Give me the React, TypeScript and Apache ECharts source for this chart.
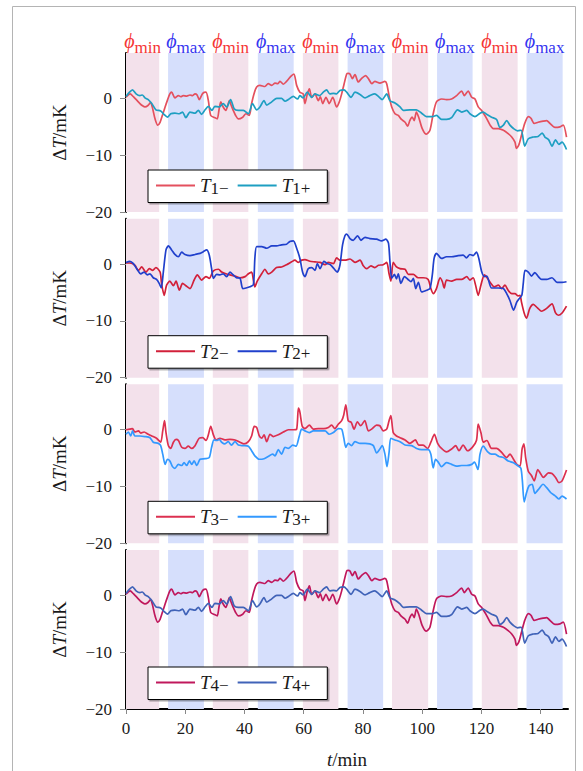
import React, { useEffect, useRef } from "react";
import * as echarts from "echarts";

// ---- data (t in min, ΔT in mK) ----
const phiMinBands: [number, number][] = [[0, 11.2], [29.3, 41.3], [59.7, 71.7], [89.8, 102], [120.1, 132.2]];
const phiMaxBands: [number, number][] = [[14.2, 26.3], [44.5, 56.6], [74.8, 86.8], [105, 117], [135.2, 147.4]];
const xTicks = [0, 20, 40, 60, 80, 100, 120, 140];
const yTicks = [-20, -10, 0];

const t1Minus: [number, number][] = [[0,0.2],[1.4,0.8],[2.5,0.3],[3.6,-0.3],[4.7,-0.9],[5.6,-1.3],[6.4,-1.5],[7.5,-1.2],[8.3,-0.7],[9.0,-1.8],[9.8,-3.6],[10.7,-4.7],[11.5,-4.2],[12.4,-2.8],[13.2,-1.5],[14.0,-0.3],[14.8,0.8],[15.4,1.1],[16.5,0.1],[17.7,0.5],[18.5,0.3],[19.3,0.5],[20.5,0.4],[21.6,0.6],[22.5,0.5],[23.3,0.8],[24.0,0.6],[24.7,-0.2],[25.9,0.9],[27.0,1.1],[27.8,-0.4],[28.6,-3.0],[30.0,-3.4],[30.8,-3.6],[31.4,-2.0],[32.0,-0.6],[32.8,-1.5],[33.7,-2.1],[34.9,-0.4],[35.5,-1.2],[36.2,-2.1],[37.0,-3.0],[37.9,-3.6],[39.4,-3.3],[40.5,-2.7],[41.6,-3.0],[42.4,-0.9],[43.2,0.8],[44.1,2.0],[45.2,2.3],[46.9,2.1],[48.0,2.6],[49.2,2.3],[50.3,2.7],[51.2,2.6],[52.0,3.0],[53.1,2.5],[54.2,3.0],[55.0,3.5],[55.9,4.0],[56.7,4.3],[57.6,2.3],[58.7,1.1],[59.8,0.8],[60.4,-0.9],[61.2,0.8],[61.9,1.7],[62.7,0.2],[63.8,0.8],[64.9,-0.4],[65.6,0.3],[66.4,-0.9],[67.5,0.2],[68.6,-0.9],[69.8,0.2],[71.1,-1.5],[72.0,-0.6],[72.8,0.8],[73.6,2.5],[74.5,4.3],[75.0,4.4],[75.6,4.3],[76.4,3.5],[77.3,4.2],[78.4,2.9],[79.5,3.5],[80.9,4.0],[81.8,3.5],[83.0,2.6],[84.0,3.0],[85.7,2.7],[87.4,3.0],[88.0,2.6],[88.9,0.2],[89.7,-1.5],[90.8,-2.7],[91.9,-3.0],[93.0,-3.7],[94.2,-4.2],[95.1,-4.9],[95.8,-3.9],[96.6,-3.3],[97.3,-3.9],[98.0,-2.4],[98.8,-3.3],[100.0,-5.3],[101.4,-6.3],[102.6,-5.6],[103.7,-2.7],[104.8,-0.6],[106.5,-0.1],[108.2,-0.2],[109.9,-0.1],[111.6,0.5],[113.3,1.3],[114.2,0.5],[115.5,1.3],[116.7,0.2],[117.8,-0.1],[118.9,-1.5],[120.0,-2.1],[121.8,-3.6],[122.9,-4.7],[124.0,-5.3],[125.7,-5.3],[127.4,-5.6],[129.0,-6.2],[130.2,-6.8],[131.3,-7.7],[131.8,-8.8],[132.6,-8.2],[133.5,-6.5],[134.6,-4.4],[135.8,-3.2],[136.7,-3.5],[137.8,-4.4],[139.1,-4.2],[140.8,-4.0],[142.0,-3.9],[143.1,-4.4],[144.8,-5.1],[146.5,-5.0],[147.6,-4.7],[148.7,-6.8]];

const t1Plus: [number, number][] = [[0,0.35],[1.2,1.1],[2.2,1.5],[3.4,0.8],[4.7,0.5],[5.5,0.6],[6.4,0.1],[7.5,-0.2],[8.7,-0.9],[10.1,-2.0],[11.7,-2.2],[12.8,-2.8],[14.0,-3.3],[15.1,-2.7],[16.5,-2.6],[18.0,-2.7],[19.1,-2.4],[20.2,-3.4],[21.6,-2.4],[23.3,-2.6],[24.4,-2.1],[25.5,-2.8],[26.7,-2.0],[27.8,-1.4],[29.0,-2.1],[30.0,-1.4],[31.5,-1.5],[32.8,-0.9],[34.0,-1.5],[35.3,-0.2],[36.5,-1.8],[37.9,-2.1],[39.6,-2.1],[41.3,-2.7],[42.7,-0.9],[44.1,-2.0],[45.2,-1.5],[46.6,-0.4],[47.5,-1.2],[49.2,-0.6],[50.9,0.0],[52.5,0.0],[53.7,-0.5],[54.8,-0.2],[56.5,0.35],[57.9,-0.1],[58.7,0.5],[59.8,0.1],[61.2,1.1],[62.7,0.2],[63.8,0.8],[65.3,0.5],[66.6,1.1],[67.7,1.5],[68.8,0.8],[70.0,0.9],[71.1,0.8],[72.2,1.4],[73.6,1.5],[74.5,1.1],[76.0,0.2],[77.3,1.1],[79.0,0.7],[80.7,0.1],[82.3,0.5],[84.0,0.8],[85.2,0.35],[86.5,-0.2],[88.0,0.8],[89.1,-0.4],[90.8,-0.8],[92.5,-1.5],[93.6,-2.1],[95.8,-2.0],[98.0,-2.0],[99.8,-2.6],[101.4,-3.2],[103.4,-3.2],[104.8,-3.0],[106.5,-3.7],[108.2,-3.7],[109.9,-3.4],[111.9,-2.0],[113.3,-2.4],[115.0,-2.1],[116.1,-2.7],[117.8,-3.2],[119.5,-2.6],[120.6,-2.4],[121.7,-2.8],[123.4,-3.3],[125.1,-3.7],[126.2,-5.1],[127.4,-4.7],[128.5,-3.9],[129.6,-4.7],[130.8,-5.3],[132.2,-5.7],[133.4,-5.6],[134.6,-8.4],[135.8,-7.1],[137.5,-6.8],[139.1,-6.7],[140.5,-6.1],[141.4,-6.8],[142.7,-7.3],[143.8,-8.4],[145.0,-7.3],[146.1,-8.1],[147.2,-7.7],[148.7,-9.0]];

const t2Minus: [number, number][] = [[0,0.2],[1.3,0.2],[3.0,-0.2],[4.2,-1.1],[5.3,-0.5],[6.7,-1.4],[7.9,-0.8],[9.0,-1.1],[10.1,-0.6],[11.5,-1.4],[12.0,-3.4],[12.9,-5.5],[13.7,-3.7],[14.8,-3.0],[16.0,-3.8],[16.9,-3.0],[18.0,-4.6],[19.1,-3.4],[20.2,-3.8],[21.6,-4.3],[23.0,-2.8],[24.1,-1.9],[25.5,-2.8],[27.0,-2.2],[28.1,-2.5],[29.5,-1.2],[31.2,-0.9],[32.3,-1.4],[33.7,-1.7],[35.1,-1.9],[36.8,-2.1],[38.5,-2.4],[40.2,-2.2],[41.3,-1.7],[42.4,-1.4],[43.0,-2.8],[43.5,-4.0],[44.3,-3.0],[45.8,-1.7],[46.9,-0.9],[48.0,-1.7],[49.2,-1.4],[50.8,-0.6],[52.5,-0.5],[54.2,-0.1],[55.9,0.4],[57.0,0.7],[58.2,0.3],[59.3,0.7],[60.4,0.8],[62.1,0.5],[63.8,0.4],[65.5,0.3],[67.2,-0.1],[68.3,0.3],[70.0,0.1],[71.1,1.1],[72.2,0.7],[73.9,0.7],[75.6,0.9],[77.3,0.3],[79.0,0.7],[80.1,-0.3],[81.2,-0.8],[82.7,-0.3],[84.0,-0.6],[85.2,-0.2],[86.8,-0.1],[88.0,0.3],[88.8,-1.7],[89.4,-3.0],[90.2,0.3],[91.3,-0.5],[92.5,-0.8],[94.2,-0.9],[95.3,-1.8],[97.0,-1.8],[98.6,-2.4],[100.3,-2.4],[102.0,-2.7],[102.9,-4.3],[103.7,-5.2],[104.8,-4.3],[106.0,-2.4],[106.8,-3.1],[107.4,-4.2],[108.2,-2.8],[109.9,-3.0],[111.6,-2.7],[113.3,-2.7],[115.0,-2.2],[116.1,-2.8],[117.2,-2.4],[118.0,-3.7],[118.9,-5.5],[119.8,-3.7],[121.0,-1.9],[122.0,-2.5],[123.2,-3.4],[124.3,-4.0],[125.7,-3.7],[126.8,-4.3],[127.9,-3.7],[129.0,-4.6],[130.2,-5.2],[131.3,-5.2],[132.4,-5.6],[133.0,-5.5],[133.5,-6.7],[134.4,-8.6],[135.2,-9.5],[136.3,-7.8],[137.5,-7.1],[138.9,-7.7],[140.3,-8.3],[142.0,-7.8],[143.8,-7.0],[145.0,-8.6],[145.9,-9.0],[147.2,-8.6],[148.7,-7.4]];

const t2Plus: [number, number][] = [[0,0.3],[1.3,0.5],[2.5,0.1],[3.6,-0.8],[5.0,-1.7],[6.1,-1.4],[7.2,-1.9],[8.1,-1.7],[9.2,-2.4],[10.3,-2.7],[11.2,-3.4],[11.9,-4.2],[12.6,-1.4],[13.5,2.5],[14.3,3.2],[15.4,2.5],[16.5,1.7],[17.7,1.3],[18.8,2.1],[19.9,1.7],[21.6,1.5],[23.3,1.7],[25.0,1.9],[26.1,2.2],[27.2,2.5],[28.1,1.6],[28.9,-0.8],[29.5,-2.5],[30.6,-1.8],[31.7,-1.9],[32.8,-1.7],[34.0,-2.2],[35.1,-1.4],[36.2,-1.9],[37.3,-2.4],[38.5,-2.5],[39.4,-4.3],[40.5,-4.2],[41.8,-4.0],[43.0,-3.6],[43.5,1.0],[44.1,3.1],[45.8,3.1],[47.5,2.8],[49.2,3.2],[50.8,3.2],[52.5,3.4],[54.2,3.5],[55.3,4.0],[56.5,4.1],[57.6,2.8],[58.7,1.0],[59.6,-1.4],[60.4,-2.2],[61.5,-0.8],[62.7,-0.6],[63.8,-1.1],[64.6,0.1],[65.5,-0.8],[66.8,0.5],[67.9,0.1],[69.0,-0.1],[70.2,-0.8],[71.3,-1.4],[72.2,-0.2],[73.1,3.4],[73.9,5.0],[74.5,5.3],[75.6,4.5],[76.7,4.2],[78.2,5.0],[79.3,4.2],[80.7,4.7],[82.3,4.5],[84.6,4.4],[86.3,4.1],[87.7,4.4],[88.6,3.7],[89.1,0.4],[89.7,-2.5],[90.6,-1.8],[91.3,-2.6],[91.9,-1.7],[92.8,-3.4],[94.0,-2.2],[95.2,-2.7],[96.2,-3.1],[97.0,-2.5],[97.8,-4.3],[98.7,-3.2],[99.8,-4.9],[101.5,-4.6],[102.6,-4.3],[103.4,-1.9],[104.0,1.0],[104.8,1.9],[106.5,1.0],[108.2,1.3],[109.9,1.3],[112.1,1.5],[113.8,1.6],[114.9,1.1],[116.1,1.7],[117.2,1.5],[118.3,2.1],[119.1,1.0],[120.1,-1.4],[121.0,-2.2],[121.8,-2.1],[123.4,-4.2],[125.7,-4.2],[127.4,-4.3],[128.5,-5.2],[129.6,-6.4],[130.8,-8.1],[131.9,-6.7],[132.7,-6.1],[133.6,-5.5],[134.1,-3.4],[134.7,-1.1],[135.8,-1.4],[136.9,-2.1],[138.0,-1.5],[139.2,-2.2],[140.3,-2.7],[142.0,-2.7],[143.8,-2.4],[145.5,-3.2],[147.2,-3.2],[148.7,-3.1]];

const t3Minus: [number, number][] = [[0,0.0],[1.3,0.1],[2.2,0.2],[3.0,-0.4],[4.2,-0.2],[5.0,-0.6],[6.1,-0.4],[7.5,-0.8],[8.7,-1.1],[10.3,-1.5],[11.7,-2.2],[12.4,-0.2],[13.0,1.6],[13.5,-0.5],[14.3,-2.8],[15.1,-3.3],[16.0,-2.2],[16.9,-1.7],[17.7,-1.9],[18.8,-3.1],[19.9,-3.3],[21.0,-2.9],[22.2,-3.3],[23.3,-2.8],[24.7,-1.5],[25.9,-1.4],[27.0,-1.9],[27.8,-0.9],[28.6,0.6],[29.5,-0.9],[30.4,-1.8],[31.7,-1.5],[33.4,-1.8],[35.1,-1.7],[36.8,-1.8],[38.5,-2.2],[39.8,-2.5],[41.3,-2.1],[42.4,-1.1],[43.3,0.6],[44.1,0.4],[45.0,-1.1],[45.8,-1.5],[46.6,-0.9],[47.5,-2.1],[48.6,-0.8],[49.7,-1.2],[51.4,-0.9],[53.1,-0.4],[54.8,0.0],[56.5,0.0],[57.6,0.1],[58.2,3.8],[58.7,3.1],[59.5,0.6],[60.4,0.2],[61.9,0.8],[63.2,0.1],[64.9,0.2],[66.8,0.2],[68.3,0.4],[69.4,0.8],[70.5,0.2],[71.7,1.0],[72.8,1.6],[73.5,2.6],[74.2,4.4],[75.0,1.6],[76.0,1.3],[77.0,0.1],[78.1,1.4],[79.2,0.7],[80.6,1.6],[81.8,-0.2],[82.9,0.1],[84.6,0.8],[85.7,0.7],[86.8,-0.2],[88.0,0.1],[88.8,1.6],[89.4,2.5],[90.2,-0.5],[91.3,-1.1],[92.5,-1.4],[94.2,-1.8],[95.8,-2.4],[97.7,-1.8],[98.8,-2.7],[100.3,-2.7],[101.8,-3.3],[102.9,-2.2],[104.1,-0.8],[105.2,-2.4],[106.5,-3.3],[108.2,-3.9],[109.9,-3.4],[111.3,-2.8],[112.4,-3.7],[113.8,-2.7],[115.3,-3.7],[116.9,-3.1],[118.3,-1.9],[118.9,1.0],[119.8,-0.5],[120.6,-2.2],[121.8,-1.9],[123.4,-3.3],[125.1,-3.3],[126.8,-4.0],[128.5,-4.9],[129.6,-4.3],[130.8,-5.2],[131.9,-6.1],[133.0,-6.4],[133.7,-3.4],[134.3,-2.5],[134.9,-4.9],[135.8,-7.3],[136.9,-8.1],[137.8,-9.0],[139.0,-7.0],[139.8,-7.6],[140.9,-8.4],[142.6,-7.6],[143.8,-7.7],[145.0,-8.4],[146.1,-9.3],[147.2,-9.0],[148.7,-7.1]];

const t3Plus: [number, number][] = [[0,-0.8],[0.8,-0.4],[1.6,-1.1],[2.2,-0.2],[3.0,-1.1],[4.7,-1.1],[6.4,-1.2],[8.1,-1.4],[9.2,-2.2],[10.9,-2.4],[11.7,-2.8],[12.4,-4.3],[13.2,-6.1],[14.0,-5.2],[14.8,-5.5],[15.7,-6.5],[16.5,-6.8],[17.7,-6.1],[18.8,-6.3],[19.6,-5.8],[20.5,-6.3],[21.4,-5.5],[22.2,-6.1],[23.0,-5.5],[23.9,-6.3],[25.0,-5.2],[26.7,-5.1],[28.1,-4.9],[28.9,-3.1],[29.7,-1.8],[30.6,-1.9],[31.5,-1.7],[32.3,-2.2],[33.4,-2.5],[34.5,-2.1],[35.6,-2.7],[36.8,-2.1],[37.9,-2.7],[39.6,-2.8],[41.3,-2.9],[42.4,-3.7],[43.5,-4.6],[45.0,-5.2],[46.6,-5.1],[48.0,-4.7],[49.5,-4.3],[50.3,-4.6],[51.4,-3.5],[52.5,-4.3],[53.7,-3.1],[54.8,-3.3],[56.3,-2.7],[57.4,-2.9],[58.5,-1.1],[59.3,0.1],[60.4,-0.2],[61.9,-0.5],[63.2,-0.2],[65.3,-0.2],[67.2,-0.2],[68.6,-0.8],[70.0,-0.5],[71.7,0.2],[72.8,0.1],[73.5,-1.4],[74.2,-3.1],[75.0,-2.4],[76.1,-2.8],[77.3,-2.1],[79.0,-2.4],[80.7,-2.4],[82.3,-2.5],[83.5,-2.8],[84.6,-4.1],[85.7,-3.4],[86.5,-2.8],[87.4,-4.3],[88.1,-6.5],[88.8,-4.0],[89.4,-1.5],[90.8,-1.8],[92.5,-2.1],[94.2,-2.7],[96.4,-2.8],[98.1,-3.3],[99.8,-3.5],[102.0,-3.5],[102.9,-4.3],[103.7,-6.7],[104.5,-5.2],[105.4,-5.7],[106.5,-6.5],[108.2,-5.8],[109.9,-6.1],[111.6,-6.4],[113.3,-6.3],[115.0,-6.3],[116.7,-6.1],[117.6,-5.7],[118.8,-7.0],[119.5,-4.3],[120.6,-2.9],[122.1,-3.9],[123.4,-4.3],[124.5,-4.3],[125.9,-4.7],[127.4,-4.9],[129.0,-5.5],[130.8,-5.8],[132.4,-6.4],[133.3,-6.8],[133.8,-9.0],[134.4,-12.7],[135.2,-11.1],[136.0,-9.9],[137.1,-9.6],[138.0,-11.2],[139.1,-10.6],[140.8,-9.6],[142.0,-10.2],[143.4,-11.1],[144.8,-11.6],[146.1,-12.2],[147.2,-11.7],[148.7,-12.2]];

// Panel 4 traces read identical to panel 1 in the picture
const t4Minus: [number, number][] = t1Minus.map((p) => [p[0], p[1]] as [number, number]);
const t4Plus: [number, number][] = t1Plus.map((p) => [p[0], p[1]] as [number, number]);

const seriesNames = [["T1−", "T1+"], ["T2−", "T2+"], ["T3−", "T3+"], ["T4−", "T4+"]];
const seriesData = [[t1Minus, t1Plus], [t2Minus, t2Plus], [t3Minus, t3Plus], [t4Minus, t4Plus]];

// ---- styles / layout ----
const FONT = "Liberation Serif";
const COLORS = [["#e4505e", "#1e9fc2"], ["#d2203a", "#2040cc"], ["#dc3050", "#3399ff"], ["#c0185c", "#4063b8"]];
const PINK = "#f3e1eb";
const BLUE = "#d6dffc";
const PHI_RED = "#f53535";
const PHI_BLUE = "#3535f0";
const TXT = "#1a1a1a";
const GRID_LEFT = 126;
const GRID_WIDTH = 442;
const PANEL_TOPS = [53, 218.7, 384.3, 550];
const PANEL_H = 159;
const X_MAX = 149.2;

const fmtY = (v: number) => (v < 0 ? "\u2212" + Math.abs(v) : String(v));

function buildOption() {
  const grid = PANEL_TOPS.map((top) => ({ left: GRID_LEFT, width: GRID_WIDTH, top, height: PANEL_H }));
  const xAxis = PANEL_TOPS.map((_, i) => ({
    type: "value",
    gridIndex: i,
    min: 0,
    max: X_MAX,
    interval: 20,
    show: i === 3,
    axisLine: { show: true, onZero: false, lineStyle: { color: "#000", width: 2 } },
    axisTick: { show: true, length: 5, customValues: xTicks, lineStyle: { color: "#888", width: 1 } },
    axisLabel: { customValues: xTicks, fontFamily: FONT, fontSize: 17, color: TXT, margin: 11 },
    splitLine: { show: false },
    name: i === 3 ? "{i|t}{n|/min}" : "",
    nameLocation: "middle",
    nameGap: 41,
    nameTextStyle: {
      rich: {
        i: { fontFamily: FONT, fontStyle: "italic", fontSize: 19, color: TXT },
        n: { fontFamily: FONT, fontSize: 19, color: TXT },
      },
    },
  }));
  const yAxis = PANEL_TOPS.map((_, i) => ({
    type: "value",
    gridIndex: i,
    min: -20,
    max: 8,
    interval: 10,
    axisLine: { show: true, onZero: false, lineStyle: { color: "#000", width: 2 } },
    axisTick: { show: true, length: 6, customValues: yTicks, lineStyle: { color: "#888", width: 1 } },
    axisLabel: { customValues: yTicks, formatter: fmtY, fontFamily: FONT, fontSize: 17, color: TXT, margin: 14 },
    splitLine: { show: false },
    name: "{d|\u0394}{i|T}{d|/mK}",
    nameLocation: "middle",
    nameGap: 57,
    nameRotate: 90,
    nameTextStyle: {
      rich: {
        d: { fontFamily: FONT, fontSize: 19, color: TXT },
        i: { fontFamily: FONT, fontStyle: "italic", fontSize: 19, color: TXT },
      },
    },
  }));

  const phiRich = (color: string) => ({
    a: { fontFamily: FONT, fontStyle: "italic", fontSize: 20, color, lineHeight: 19, verticalAlign: "top" },
    b: { fontFamily: FONT, fontSize: 17, color, lineHeight: 25, verticalAlign: "bottom" },
  });

  const series: any[] = [];
  PANEL_TOPS.forEach((_, i) => {
    const areas: any[] = [];
    phiMinBands.forEach(([a, b]) => {
      areas.push([
        {
          xAxis: a,
          itemStyle: { color: PINK },
          label: i === 0
            ? { show: true, position: "top", distance: -3, formatter: "{a|\u03d5}{b|min}", rich: phiRich(PHI_RED) }
            : { show: false },
        },
        { xAxis: b },
      ]);
    });
    phiMaxBands.forEach(([a, b]) => {
      areas.push([
        {
          xAxis: a,
          itemStyle: { color: BLUE },
          label: i === 0
            ? { show: true, position: "top", distance: -3, formatter: "{a|\u03d5}{b|max}", rich: phiRich(PHI_BLUE) }
            : { show: false },
        },
        { xAxis: b },
      ]);
    });
    series.push({
      type: "line",
      xAxisIndex: i,
      yAxisIndex: i,
      data: [],
      silent: true,
      z: 1,
      markArea: { silent: true, data: areas, itemStyle: { opacity: 1 }, emphasis: { disabled: true } },
    });
    [0, 1].forEach((k) => {
      series.push({
        name: seriesNames[i][k],
        type: "line",
        xAxisIndex: i,
        yAxisIndex: i,
        data: seriesData[i][k],
        symbol: "none",
        smooth: 0.25,
        z: 3,
        lineStyle: { color: COLORS[i][k], width: 1.7 },
        itemStyle: { color: COLORS[i][k] },
      });
    });
  });

  const legend = PANEL_TOPS.map((top, i) => ({
    data: seriesNames[i].map((n) => ({ name: n, icon: "rect" })),
    left: 148,
    top: top + PANEL_H - 42,
    orient: "horizontal",
    selectedMode: false,
    padding: [6, 17, 6, 8],
    itemWidth: 39,
    itemHeight: 2,
    itemGap: 9,
    backgroundColor: "#fff",
    borderColor: "#000",
    borderWidth: 1,
    borderRadius: 0,
    shadowColor: "rgba(0,0,0,0.35)",
    shadowOffsetX: 1.5,
    shadowOffsetY: 1.5,
    shadowBlur: 0,
    formatter: (name: string) => `{t|T}{s|${name.slice(1)}}`,
    textStyle: {
      rich: {
        t: { fontFamily: FONT, fontStyle: "italic", fontSize: 19, color: TXT, lineHeight: 22, verticalAlign: "middle" },
        s: { fontFamily: FONT, fontSize: 17, color: TXT, lineHeight: 16, verticalAlign: "bottom" },
      },
    },
  }));

  return {
    animation: false,
    backgroundColor: "#fff",
    grid,
    xAxis,
    yAxis,
    legend,
    series,
    graphic: [
      {
        type: "rect",
        silent: true,
        shape: { x: 12.5, y: 6.5, width: 563, height: 800 },
        style: { fill: "none", stroke: "#b4b4b4", lineWidth: 1 },
        z: 0,
      },
    ],
  };
}

export default function App() {
  const ref = useRef<HTMLDivElement>(null);
  useEffect(() => {
    if (!ref.current) return;
    const chart = echarts.init(ref.current, undefined, { renderer: "svg" });
    chart.setOption(buildOption() as any);
    return () => chart.dispose();
  }, []);
  return (
    <div
      ref={ref}
      style={{ position: "absolute", left: 0, top: 0, width: 583, height: 771 }}
    />
  );
}
